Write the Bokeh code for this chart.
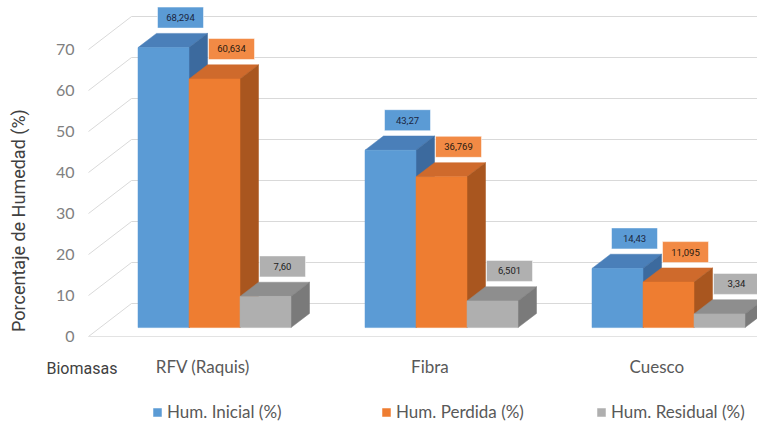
import math
from bokeh.plotting import figure
from bokeh.models import (Range1d, FixedTicker, LinearAxis, Legend, LegendItem, Label,
                          ColumnDataSource)
from bokeh.embed import file_html
from bokeh.resources import INLINE
from bokeh.core.properties import value

# ---------------- data ----------------
categories = ["RFV (Raquis)", "Fibra", "Cuesco"]
series_names = ["Hum. Inicial (%)", "Hum. Perdida (%)", "Hum. Residual (%)"]
hum_inicial = [68.294, 43.27, 14.43]
hum_perdida = [60.634, 36.769, 11.095]
hum_residual = [7.60, 6.501, 3.34]
lab_inicial = ["68,294", "43,27", "14,43"]
lab_perdida = ["60,634", "36,769", "11,095"]
lab_residual = ["7,60", "6,501", "3,34"]
y_ticks = [0, 10, 20, 30, 40, 50, 60, 70]
x_title = "Biomasas"
y_title = "Porcentaje de Humedad (%)"

# ---------------- geometry (3D-look projection) ----------------
PX_X = 227.0      # px per category
PX_Y = 4.1        # px per percent
DX = 43.0 / PX_X  # full floor depth, x shift
DY = 33.0 / PX_Y  # full floor depth, y shift
D0, D1 = 0.27, 0.70
BW = 51.0 / PX_X
OX = 202.4        # page x of first category (floor front)
OY = 336.0        # page y of value 0 (floor front)
LEFT, TOP = 0.0, 0.0   # page position of figure

W, H = 757, 425
x0 = (LEFT - OX) / PX_X
x1 = (LEFT + W - OX) / PX_X
y0 = (OY - (TOP + H)) / PX_Y
y1 = (OY - TOP) / PX_Y

p = figure(width=W, height=H, output_backend="svg", toolbar_location=None,
           x_range=Range1d(x0, x1), y_range=Range1d(y0, y1),
           x_axis_location=None, y_axis_location=None, title=None,
           min_border_left=0, min_border_right=0, min_border_top=0, min_border_bottom=0)
p.outline_line_color = None
p.xgrid.visible = False
p.ygrid.visible = False

# y axis (tick labels on the floor front plane)
ya = LinearAxis(ticker=FixedTicker(ticks=y_ticks), fixed_location=(86 - OX) / PX_X)
ya.axis_line_color = None
ya.major_tick_line_color = None
ya.minor_tick_line_color = None
ya.major_label_standoff = 6
ya.major_label_text_font = "Lato"
ya.major_label_text_font_size = "16px"
ya.major_label_text_color = "#808080"
p.add_layout(ya, "left")

# x axis (category labels on floor front edge)
xa = LinearAxis(ticker=FixedTicker(ticks=[0, 1, 2]), fixed_location=0,
                major_label_overrides={i: c for i, c in enumerate(categories)})
xa.axis_line_color = None
xa.major_tick_line_color = None
xa.minor_tick_line_color = None
xa.major_label_standoff = 13
xa.major_label_text_font = "Lato"
xa.major_label_text_font_size = "17px"
xa.major_label_text_color = "#595959"
p.add_layout(xa, "below")

# gridlines: side wall (slanted) + back wall (horizontal)
gx0 = (88 - OX) / PX_X
gxs, gys = [], []
for v in y_ticks:
    gxs.append([gx0, gx0 + DX, x1])
    gys.append([v, v + DY, v + DY])
p.multi_line(gxs, gys, line_color="#d9d9d9", line_width=1)
p.line([gx0, x1], [0, 0], line_color="#e3e3e3", line_width=1)

# bars
specs = [
    (hum_inicial, lab_inicial, -1, "#5b9bd5", "#4a7fb9", "#3c6a9e", "#5b9bd5", "#1a2540"),
    (hum_perdida, lab_perdida, 0, "#ee7d31", "#cf6a2c", "#a9561f", "#f28a45", "#2a1a10"),
    (hum_residual, lab_residual, 1, "#afafaf", "#8e8e8e", "#7a7a7a", "#b0b0b0", "#222222"),
]
front_renderers = []
ddx = (D1 - D0) * DX
ddy = (D1 - D0) * DY
for vals, labs, k, cf, ct, cs, cb, ctxt in specs:
    cx = [i + D0 * DX + k * BW for i in range(len(vals))]
    L = [c - BW / 2 for c in cx]
    R = [c + BW / 2 for c in cx]
    B = [D0 * DY] * len(vals)
    T = [v + D0 * DY for v in vals]
    top_xs = [[l, r, r + ddx, l + ddx] for l, r in zip(L, R)]
    top_ys = [[t, t, t + ddy, t + ddy] for t in T]
    side_xs = [[r, r + ddx, r + ddx, r] for r in R]
    side_ys = [[b, b + ddy, t + ddy, t] for b, t in zip(B, T)]
    p.patches(top_xs, top_ys, fill_color=ct, line_color=ct, line_width=0.5)
    p.patches(side_xs, side_ys, fill_color=cs, line_color=cs, line_width=0.5)
    fr = p.quad(left=L, right=R, bottom=B, top=T, fill_color=cf, line_color=cf, line_width=0.5)
    front_renderers.append(fr)
    # data labels
    src = ColumnDataSource(dict(x=[c + 17.0 / PX_X for c in cx],
                                y=[t + 30.0 / PX_Y for t in T], text=labs))
    p.rect(x="x", y="y", width=46, height=21, width_units="screen", height_units="screen",
           source=src, fill_color=cb, line_color="#ffffff", line_alpha=0.5)
    p.text(x="x", y="y", text="text", source=src, text_align="center",
           text_baseline="middle", text_font=value("Roboto"), text_font_size="9.5px",
           text_color=ctxt)

# legends (one per series, placed in the frame's bottom strip)
leg_x = [152 - LEFT, 381 - LEFT, 596 - LEFT]
for name, rend, lx in zip(series_names, front_renderers, leg_x):
    lg = Legend(items=[LegendItem(label=name, renderers=[rend])], location=(lx, 3),
                orientation="horizontal", margin=0, padding=0, glyph_width=10,
                glyph_height=10, label_height=18, label_standoff=5,
                border_line_color=None, background_fill_alpha=0,
                label_text_font="Lato", label_text_font_size="17px",
                label_text_color="#595959")
    p.add_layout(lg)

# axis titles
p.add_layout(Label(x=(46 - OX) / PX_X, y=(OY - 368) / PX_Y, text=x_title,
                   text_baseline="middle", text_align="left", text_font="Roboto",
                   text_font_size="16px", text_color="#404040"))
p.add_layout(Label(x=(18 - OX) / PX_X, y=(OY - 220) / PX_Y, text=y_title,
                   angle=math.pi / 2, text_baseline="middle", text_align="center",
                   text_font="Roboto", text_font_size="18px", text_color="#404040"))

open("out.html", "w").write(file_html(p, INLINE))
